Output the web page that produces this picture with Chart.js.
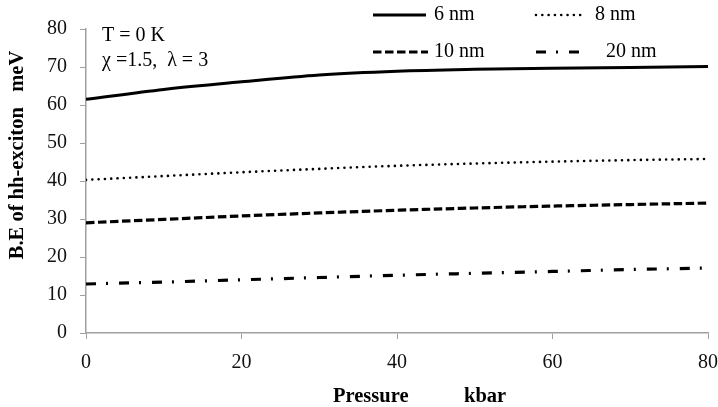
<!DOCTYPE html>
<html><head><meta charset="utf-8">
<script src="https://cdn.jsdelivr.net/npm/chart.js@4"></script>
<style>html,body{margin:0;padding:0;background:#fff}</style>
</head><body>
<canvas id="c" width="718" height="407" style="display:block;width:718px;height:407px"></canvas>
<script>
const pressure = [0, 10, 20, 30, 40, 50, 60, 70, 80];
const be6nm  = [61.5, 64.1, 66.1, 67.9, 68.9, 69.4, 69.7, 69.9, 70.1];
const be8nm  = [40.3, 41.3, 42.3, 43.2, 44.0, 44.6, 45.1, 45.5, 45.8];
const be10nm = [29.0, 29.9, 30.8, 31.6, 32.3, 32.9, 33.4, 33.8, 34.2];
const be20nm = [12.9, 13.4, 14.0, 14.6, 15.2, 15.7, 16.2, 16.7, 17.1];
const seriesNames = ['6 nm', '8 nm', '10 nm', '20 nm'];
const xTicks = [0, 20, 40, 60, 80];
const yTicks = [0, 10, 20, 30, 40, 50, 60, 70, 80];
const xTitleParts = ['Pressure', 'kbar'];
const yTitle = 'B.E of hh-exciton   meV';
const notes = ['T = 0 K', '\u03C7 =1.5,  \u03BB = 3'];

const SERIF = '"Liberation Serif", "Times New Roman", serif';
const AXIS = '#a0a0a0';
Chart.defaults.font.family = SERIF;

function pts(ys) { return pressure.map((x, i) => ({x, y: ys[i]})); }

const styles = [
  {borderWidth: 3, borderDash: [], borderCapStyle: 'butt'},
  {borderWidth: 2.6, borderDash: [0.01, 6.3], borderCapStyle: 'round'},
  {borderWidth: 3.2, borderDash: [8.5, 3.5], borderCapStyle: 'butt'},
  {borderWidth: 3.2, borderDash: [10, 10, 2, 11], borderCapStyle: 'butt'}
];
const allData = [be6nm, be8nm, be10nm, be20nm];

const datasets = allData.map((d, i) => Object.assign({
  label: seriesNames[i],
  data: pts(d),
  borderColor: '#000',
  backgroundColor: '#000',
  pointRadius: 0,
  fill: false,
  cubicInterpolationMode: 'monotone'
}, styles[i]));

const overlay = {
  id: 'overlay',
  afterDraw(chart) {
    const ctx = chart.ctx;
    ctx.save();
    ctx.fillStyle = '#000';
    ctx.font = '20px ' + SERIF;
    ctx.textAlign = 'left';
    ctx.textBaseline = 'middle';
    ctx.fillText(notes[0], 102, 36);
    ctx.fillText(notes[1], 102, 61);
    const leg = [
      {x1: 373, x2: 426, tx: 434, y: 15},
      {x1: 536, x2: 586, tx: 595, y: 15},
      {x1: 373, x2: 428, tx: 434, y: 52},
      {x1: 536, x2: 582, tx: 606, y: 52}
    ];
    leg.forEach((L, i) => {
      const ds = chart.data.datasets[i];
      ctx.save();
      ctx.strokeStyle = '#000';
      ctx.lineWidth = ds.borderWidth;
      ctx.lineCap = ds.borderCapStyle;
      ctx.setLineDash(ds.borderDash);
      ctx.beginPath();
      ctx.moveTo(L.x1, L.y);
      ctx.lineTo(L.x2, L.y);
      ctx.stroke();
      ctx.restore();
      ctx.fillText(ds.label, L.tx, L.y);
    });
    ctx.font = 'bold 20.5px ' + SERIF;
    ctx.textBaseline = 'alphabetic';
    ctx.fillText(xTitleParts[0], 333, 402);
    ctx.fillText(xTitleParts[1], 464, 402);
    ctx.save();
    ctx.translate(23, 155);
    ctx.rotate(-Math.PI / 2);
    ctx.textAlign = 'center';
    ctx.fillText(yTitle, 0, 0);
    ctx.restore();
    ctx.restore();
  }
};

new Chart(document.getElementById('c'), {
  type: 'line',
  data: {datasets},
  plugins: [overlay],
  options: {
    responsive: false,
    animation: false,
    events: [],
    layout: {padding: {top: 29, right: 0, left: 0, bottom: 0}},
    plugins: {legend: {display: false}, tooltip: {enabled: false}, title: {display: false}},
    scales: {
      x: {
        type: 'linear', min: 0, max: 80,
        afterBuildTicks(s) { s.ticks = xTicks.map(v => ({value: v})); },
        afterFit(s) { s.height = 74; s.paddingRight = 10; },
        grid: {drawOnChartArea: false, tickLength: 6, color: AXIS},
        border: {color: AXIS, width: 1.5},
        ticks: {color: '#111', padding: 12, font: {family: SERIF, size: 20}, maxRotation: 0}
      },
      y: {
        type: 'linear', min: 0, max: 80,
        afterBuildTicks(s) { s.ticks = yTicks.map(v => ({value: v})); },
        afterFit(s) { s.width = 86; },
        grid: {drawOnChartArea: false, tickLength: 6, color: AXIS},
        border: {color: AXIS, width: 1.5},
        ticks: {color: '#111', padding: 13, font: {family: SERIF, size: 20}}
      }
    }
  }
});
</script>
</body></html>
